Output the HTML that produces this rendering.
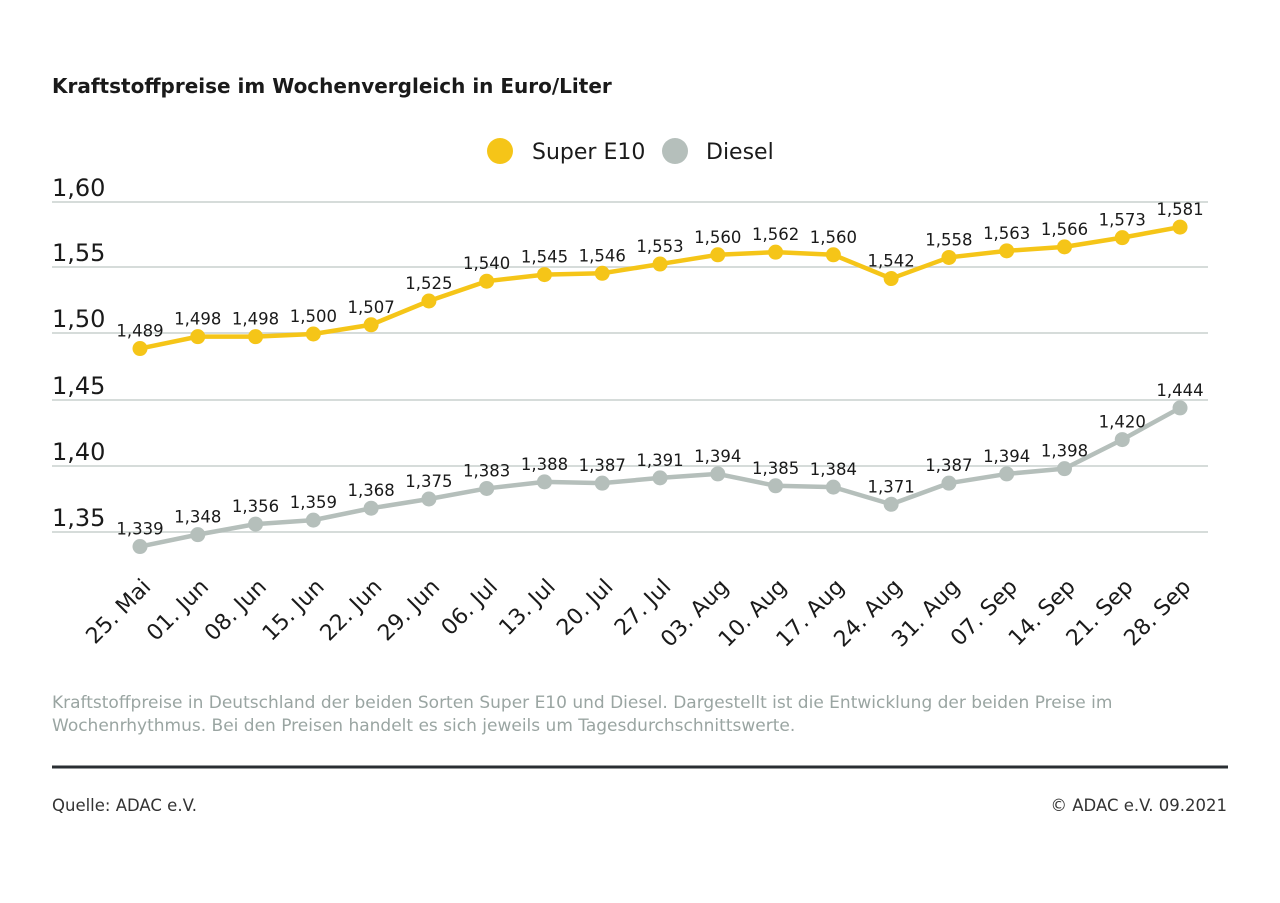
<!DOCTYPE html>
<html><head><meta charset="utf-8"><style>
body{margin:0;background:#fff;}
svg text{font-family:"DejaVu Sans","Liberation Sans",sans-serif;}
</style></head><body>
<svg width="1280" height="898" viewBox="0 0 1280 898" xmlns="http://www.w3.org/2000/svg">
<rect width="1280" height="898" fill="#fff"/>
<text x="52" y="93" font-size="20" font-weight="bold" fill="#1a1a1a">Kraftstoffpreise im Wochenvergleich in Euro/Liter</text>
<circle cx="500" cy="151" r="13" fill="#f5c518"/>
<text x="532" y="159" font-size="22" fill="#1a1a1a">Super E10</text>
<circle cx="675" cy="151" r="13" fill="#b5bfbb"/>
<text x="706" y="159" font-size="22" fill="#1a1a1a">Diesel</text>
<g stroke="#c8d0cd" stroke-width="1.5">
<line x1="52" y1="202" x2="1208" y2="202"/><line x1="52" y1="267" x2="1208" y2="267"/>
<line x1="52" y1="333" x2="1208" y2="333"/><line x1="52" y1="400" x2="1208" y2="400"/>
<line x1="52" y1="466" x2="1208" y2="466"/><line x1="52" y1="532" x2="1208" y2="532"/>
</g>
<g font-size="24" fill="#1a1a1a">
<text x="52" y="196">1,60</text><text x="52" y="261">1,55</text><text x="52" y="327">1,50</text>
<text x="52" y="394">1,45</text><text x="52" y="460">1,40</text><text x="52" y="526">1,35</text>
</g>
<g id="chart"></g>
<text x="52" y="708" font-size="17" fill="#9aa5a2">Kraftstoffpreise in Deutschland der beiden Sorten Super E10 und Diesel. Dargestellt ist die Entwicklung der beiden Preise im</text>
<text x="52" y="731" font-size="17" fill="#9aa5a2">Wochenrhythmus. Bei den Preisen handelt es sich jeweils um Tagesdurchschnittswerte.</text>
<line x1="52" y1="767" x2="1228" y2="767" stroke="#2a2f33" stroke-width="3"/>
<text x="52" y="811" font-size="16.5" fill="#333">Quelle: ADAC e.V.</text>
<text x="1227" y="811" font-size="16.5" fill="#333" text-anchor="end">© ADAC e.V. 09.2021</text>
</svg>
<script>
const e10=[1.489,1.498,1.498,1.500,1.507,1.525,1.540,1.545,1.546,1.553,1.560,1.562,1.560,1.542,1.558,1.563,1.566,1.573,1.581];
const di=[1.339,1.348,1.356,1.359,1.368,1.375,1.383,1.388,1.387,1.391,1.394,1.385,1.384,1.371,1.387,1.394,1.398,1.420,1.444];
const lab=["25. Mai","01. Jun","08. Jun","15. Jun","22. Jun","29. Jun","06. Jul","13. Jul","20. Jul","27. Jul","03. Aug","10. Aug","17. Aug","24. Aug","31. Aug","07. Sep","14. Sep","21. Sep","28. Sep"];
const X=i=>140+i*57.78, Y=v=>532-(v-1.35)*1320;
let s="";
function series(d,c){
 s+=`<polyline fill="none" stroke="${c}" stroke-width="4.5" stroke-linejoin="round" points="${d.map((v,i)=>X(i)+','+Y(v)).join(' ')}"/>`;
 d.forEach((v,i)=>{s+=`<circle cx="${X(i)}" cy="${Y(v)}" r="7.5" fill="${c}"/>`;
 s+=`<text x="${X(i)}" y="${Y(v)-12}" font-size="16.5" fill="#1a1a1a" text-anchor="middle">${v.toFixed(3).replace('.',',')}</text>`;});
}
series(e10,"#f5c518");series(di,"#b5bfbb");
lab.forEach((l,i)=>{const x=X(i)+12,y=588;s+=`<text x="${x}" y="${y}" font-size="22" fill="#1a1a1a" text-anchor="end" transform="rotate(-45 ${x} ${y})">${l}</text>`;});
document.getElementById("chart").innerHTML=s;
</script>
</body></html>
